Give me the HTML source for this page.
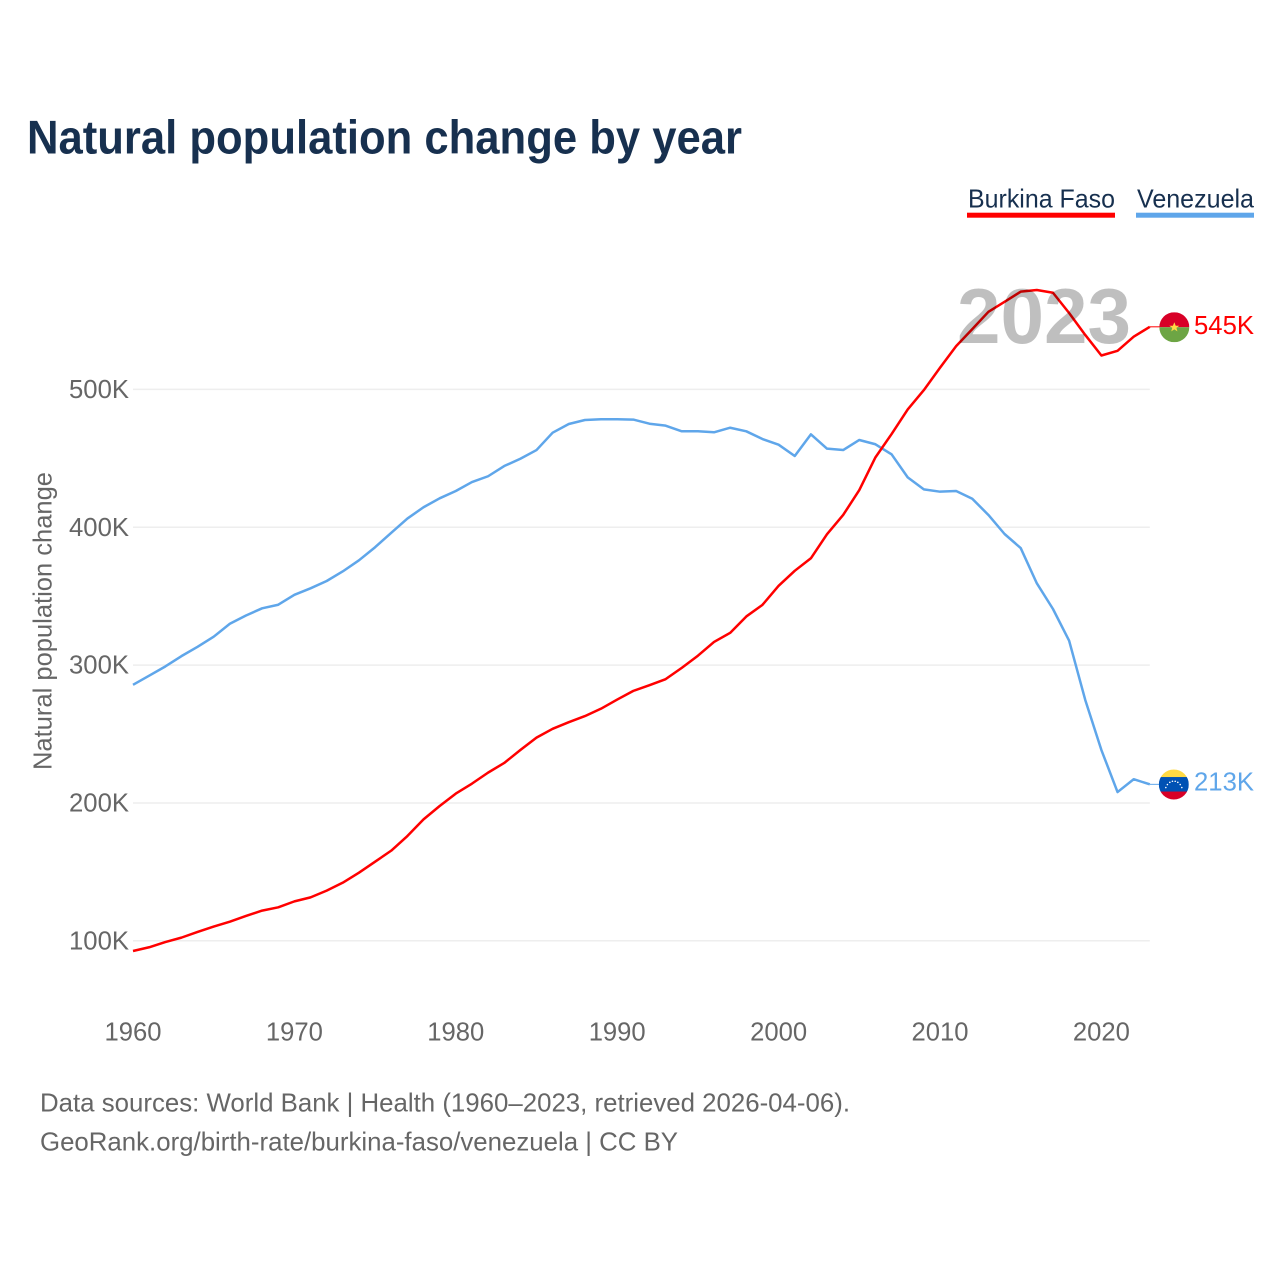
<!DOCTYPE html>
<html lang="en">
<head>
<meta charset="utf-8">
<title>Natural population change by year</title>
<style>
html,body{margin:0;padding:0;background:#fff;}
svg{display:block;font-family:"Liberation Sans",sans-serif;}
</style>
</head>
<body>
<svg id="chart" xmlns="http://www.w3.org/2000/svg" width="1280" height="1280" viewBox="0 0 1280 1280">
  <rect x="0" y="0" width="1280" height="1280" fill="#fff"/>
  <text x="27" y="153.5" font-size="47" font-weight="700" fill="#17304f" textLength="715" lengthAdjust="spacingAndGlyphs">Natural population change by year</text>

  <g>
    <text x="968" y="207.3" font-size="26" fill="#17304f" textLength="147" lengthAdjust="spacingAndGlyphs">Burkina Faso</text>
    <rect x="967" y="212.7" width="148" height="5" fill="#ff0000"/>
  </g>
  <g>
    <text x="1137" y="207.3" font-size="26" fill="#17304f" textLength="117" lengthAdjust="spacingAndGlyphs">Venezuela</text>
    <rect x="1136" y="212.7" width="118" height="5" fill="#5fa6ea"/>
  </g>

  <text transform="translate(51.5,770) rotate(-90)" font-size="26" fill="#666" textLength="298" lengthAdjust="spacingAndGlyphs">Natural population change</text>

  <g id="grid"></g>
  <g id="yticks"></g>
  <g id="xticks"></g>
  <g id="lines"></g>

  <text x="957" y="342.8" font-size="78" font-weight="700" fill="#000" fill-opacity="0.25" textLength="174" lengthAdjust="spacingAndGlyphs">2023</text>

  <defs>
    <clipPath id="flag-clip"><circle cx="0" cy="0" r="15"/></clipPath>
  </defs>
  <g id="flag-bf">
    <g clip-path="url(#flag-clip)">
      <rect x="-15" y="-15" width="30" height="15" fill="#d80027"/>
      <rect x="-15" y="0" width="30" height="15" fill="#6da544"/>
      <polygon points="0,-5 1.4,-1.5 5,-1.5 2.1,0.7 3.1,4.2 0,2.1 -3.1,4.2 -2.1,0.7 -5,-1.5 -1.4,-1.5" fill="#ffda44"/>
    </g>
  </g>
  <g id="flag-ve">
    <g clip-path="url(#flag-clip)">
      <rect x="-15" y="-15" width="30" height="8" fill="#ffda44"/>
      <rect x="-15" y="-7.5" width="30" height="15" fill="#0052b4"/>
      <rect x="-15" y="7" width="30" height="8" fill="#d80027"/>
      <g fill="#fff">
        <circle cx="-8" cy="3" r=".8"/><circle cx="-6.4" cy="0" r=".8"/><circle cx="-4" cy="-2.2" r=".8"/><circle cx="-1.4" cy="-3.3" r=".8"/><circle cx="1.4" cy="-3.3" r=".8"/><circle cx="4" cy="-2.2" r=".8"/><circle cx="6.4" cy="0" r=".8"/><circle cx="8" cy="3" r=".8"/>
      </g>
    </g>
  </g>
  <g id="endlabels"></g>

  <text x="40" y="1111.5" font-size="26" fill="#666" textLength="810" lengthAdjust="spacingAndGlyphs">Data sources: World Bank | Health (1960–2023, retrieved 2026-04-06).</text>
  <text x="40" y="1150.5" font-size="26" fill="#666" textLength="638" lengthAdjust="spacingAndGlyphs">GeoRank.org/birth-rate/burkina-faso/venezuela | CC BY</text>
</svg>
<script>
const startYear = 1960;
const xTickYears = [1960, 1970, 1980, 1990, 2000, 2010, 2020];
const yTickValues = [100, 200, 300, 400, 500];
const yTickLabels = ["100K", "200K", "300K", "400K", "500K"];
const burkinaFaso = [
  92.6, 95.3, 99.1, 102.3, 106.4, 110.3, 113.9, 118, 121.9, 124.3,
  128.6, 131.5, 136.4, 142.2, 149.4, 157.4, 165.4, 176, 188.1, 197.8,
  206.8, 214, 222, 229, 238.4, 247.4, 253.8, 258.6, 263, 268.4,
  275, 281.3, 285.4, 289.8, 298, 306.8, 316.8, 323.4, 335.3, 343.7,
  357.5, 368.4, 377.5, 395, 408.9, 427, 450.7, 467.6, 485.5, 499.5,
  515.7, 531.4, 543.7, 556.3, 563.5, 570.9, 572.1, 570.1, 555.4, 539.5,
  524.6, 528, 538.2, 545.4
];
const venezuela = [
  285.7, 292.3, 299, 306.5, 313.3, 320.6, 330, 336, 341.2, 343.8,
  351, 355.7, 361, 368, 376, 385.5, 396, 406.3, 414.5, 421,
  426.3, 432.8, 437, 444.4, 449.7, 456, 468.6, 474.9, 477.8, 478.3,
  478.3, 478.1, 475.1, 473.7, 469.6, 469.6, 468.9, 472.2, 469.6, 464,
  459.9, 451.7, 467.4, 457, 456, 463.3, 460.2, 452.9, 436.2, 427.5,
  425.8, 426.3, 420.7, 408.9, 395.1, 384.9, 359.3, 340.7, 317.7, 274.7,
  238.4, 207.9, 217.2, 213.5
];
const endLabelBurkinaFaso = "545K";
const endLabelVenezuela = "213K";

const NS = "http://www.w3.org/2000/svg";
const xAxis = function (year) { return 133 + (year - 1960) * 16.14; };
const yAxis = function (value) { return 940.8 - (value - 100) * 1.3785; };

function makeText(parent, x, y, str, anchor, width, color) {
  const t = document.createElementNS(NS, "text");
  t.setAttribute("x", x);
  t.setAttribute("y", y);
  t.setAttribute("font-size", "26");
  t.setAttribute("fill", color);
  t.setAttribute("text-anchor", anchor);
  t.setAttribute("textLength", width);
  t.setAttribute("lengthAdjust", "spacingAndGlyphs");
  t.textContent = str;
  parent.appendChild(t);
  return t;
}

const grid = document.getElementById("grid");
const yticks = document.getElementById("yticks");
yTickValues.forEach(function (v, i) {
  const l = document.createElementNS(NS, "line");
  
  
  l.setAttribute("x1", xAxis(1960));
  l.setAttribute("x2", xAxis(2023));
  l.setAttribute("y1", yAxis(v));
  l.setAttribute("y2", yAxis(v));
  l.setAttribute("stroke", "#eeeeee");
  l.setAttribute("stroke-width", "1.5");
  grid.appendChild(l);
  const t = makeText(yticks, 129, yAxis(v) + 8.5, yTickLabels[i], "end", 60, "#666");
  
  
});

const xticks = document.getElementById("xticks");
xTickYears.forEach(function (yr) {
  const t = makeText(xticks, xAxis(yr), 1040.5, String(yr), "middle", 57, "#666");
  
  
});

function buildPoints(values) {
  return values.map(function (v, i) {
    return xAxis(startYear + i).toFixed(2) + "," + yAxis(v).toFixed(2);
  }).join(" ");
}

const lines = document.getElementById("lines");

const lineVe = document.createElementNS(NS, "polyline");


lineVe.setAttribute("points", buildPoints(venezuela));
lineVe.setAttribute("fill", "none");
lineVe.setAttribute("stroke", "#5fa6ea");
lineVe.setAttribute("stroke-width", "2.5");
lineVe.setAttribute("stroke-linejoin", "round");
lines.appendChild(lineVe);

const lineBf = document.createElementNS(NS, "polyline");


lineBf.setAttribute("points", buildPoints(burkinaFaso));
lineBf.setAttribute("fill", "none");
lineBf.setAttribute("stroke", "#ff0000");
lineBf.setAttribute("stroke-width", "2.5");
lineBf.setAttribute("stroke-linejoin", "round");
lines.appendChild(lineBf);

const lastYear = startYear + burkinaFaso.length - 1;
const endX = xAxis(lastYear);

const connBf = document.createElementNS(NS, "line");


connBf.setAttribute("x1", endX);
connBf.setAttribute("x2", endX + 10);
connBf.setAttribute("y1", yAxis(burkinaFaso[burkinaFaso.length - 1]));
connBf.setAttribute("y2", yAxis(burkinaFaso[burkinaFaso.length - 1]));
connBf.setAttribute("stroke", "#ff0000");
connBf.setAttribute("stroke-width", "1");
lines.appendChild(connBf);

const connVe = document.createElementNS(NS, "line");


connVe.setAttribute("x1", endX);
connVe.setAttribute("x2", endX + 10);
connVe.setAttribute("y1", yAxis(venezuela[venezuela.length - 1]));
connVe.setAttribute("y2", yAxis(venezuela[venezuela.length - 1]));
connVe.setAttribute("stroke", "#5fa6ea");
connVe.setAttribute("stroke-width", "1");
lines.appendChild(connVe);

const yBf = yAxis(burkinaFaso[burkinaFaso.length - 1]);
const yVe = yAxis(venezuela[venezuela.length - 1]);
document.getElementById("flag-bf").setAttribute("transform", "translate(" + (endX + 24.5) + "," + (yBf + 0.4) + ")");
document.getElementById("flag-ve").setAttribute("transform", "translate(" + (endX + 24) + "," + (yVe + 0.2) + ")");

const endlabels = document.getElementById("endlabels");
const lblBf = makeText(endlabels, 1194, yBf + 7, endLabelBurkinaFaso, "start", 60, "#ff0000");


const lblVe = makeText(endlabels, 1194, yVe + 6, endLabelVenezuela, "start", 60, "#5fa6ea");


</script>
</body>
</html>
